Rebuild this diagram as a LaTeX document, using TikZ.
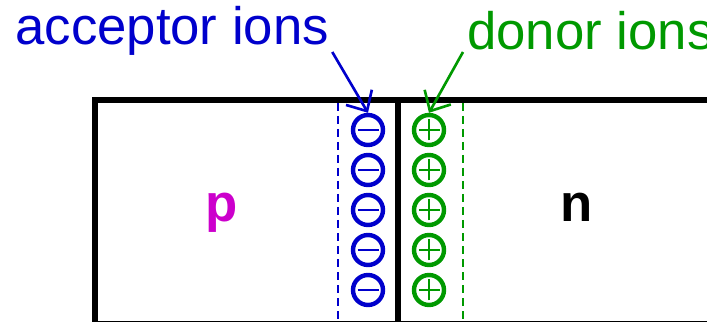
\documentclass[tikz,border=0pt]{standalone}
\usepackage{fontspec}
\setmainfont{Liberation Sans}
\usetikzlibrary{arrows.meta}
\definecolor{accblue}{RGB}{0,0,204}
\definecolor{dongreen}{RGB}{0,153,0}
\definecolor{pmagenta}{RGB}{204,0,204}

\begin{document}
\begin{tikzpicture}[
    wall/.style={line width=0.12cm},
    edge/.style={line width=1pt, dash pattern=on 0.16cm off 0.1cm},
    ion/.style={circle, draw, line width=2.5pt, minimum size=0.6cm, inner sep=0pt},
    acceptor/.style={ion, accblue, path picture={\draw[accblue, line width=1.4pt] ([xshift=-0.21cm]path picture bounding box.center) -- ([xshift=0.21cm]path picture bounding box.center);}},
    donor/.style={ion, dongreen, path picture={\draw[dongreen, line width=1.4pt] ([xshift=-0.21cm]path picture bounding box.center) -- ([xshift=0.21cm]path picture bounding box.center) ([yshift=-0.21cm]path picture bounding box.center) -- ([yshift=0.21cm]path picture bounding box.center);}},
    caption/.style={inner sep=0pt, font=\fontsize{30}{36}\selectfont},
    region/.style={inner sep=0pt, anchor=base, font=\fontsize{30}{36}\selectfont\bfseries},
    pointer/.style={-{Straight Barb[length=0.32cm, width=0.6cm]}, line width=1.5pt}
]
    \useasboundingbox (0,0) rectangle (14.14,6.44);

    % Depletion edges
    \draw[edge, accblue] (6.76,4.38) -- (6.76,-0.1);
    \draw[edge, dongreen] (9.26,4.38) -- (9.26,-0.1);

    % Fixed ions on both sides of the junction
    \foreach \i/\y in {1/3.84, 2/3.04, 3/2.24, 4/1.44, 5/0.64} {
        \node[acceptor] (a\i) at (7.36,\y) {};
        \node[donor] (d\i) at (8.58,\y) {};
    }

    % Crystal and junction
    \draw[wall] (15,4.44) -- (1.89,4.44) -- (1.89,-0.045) -- (15,-0.045);
    \draw[wall] (7.96,4.44) -- (7.96,-0.1);

    % Region labels
    \node[region, pmagenta] (pside) at (4.44,2.0) {p};
    \node[region] (nside) at (11.54,2.0) {n};

    % Captions with pointers
    \node[caption, accblue, anchor=base west] (acclabel) at (0.3,5.54) {acceptor ions};
    \node[caption, dongreen, anchor=base west] (donlabel) at (9.34,5.44) {donor ions};
    \draw[pointer, accblue] ([shift={(0.06,-0.14)}]acclabel.base east) -- (a1.north);
    \draw[pointer, dongreen] ([shift={(-0.08,-0.04)}]donlabel.base west) -- (d1.north);
\end{tikzpicture}
\end{document}
